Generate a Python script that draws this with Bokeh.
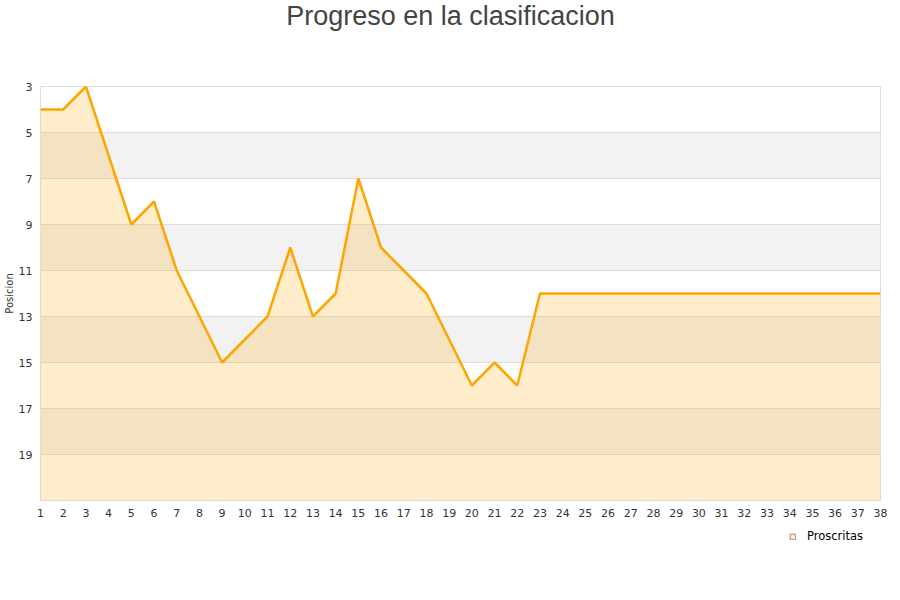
from bokeh.plotting import figure
from bokeh.layouts import column
from bokeh.models import Range1d, FixedTicker, Legend, LegendItem, ColumnDataSource, Label
from bokeh.embed import file_html
from bokeh.resources import INLINE

# Jornada-by-jornada league position
jornadas = list(range(1, 39))
posiciones = [4, 4, 3, 6, 9, 8, 11, 13, 15, 14, 13, 10, 13, 12, 7, 10, 11, 12, 14, 16,
              15, 16, 12, 12, 12, 12, 12, 12, 12, 12, 12, 12, 12, 12, 12, 12, 12, 12]
y_ticks = [3, 5, 7, 9, 11, 13, 15, 17, 19]
y_bottom = 21
titulo = "Progreso en la clasificacion"
serie = "Proscritas"

src = ColumnDataSource(dict(x=jornadas, y=posiciones, base=[y_bottom] * len(jornadas)))


def blank_strip(h):
    # strip used only for screen-positioned annotations; its data window lies
    # away from the jornada values so nothing from the series is drawn in it
    f = figure(width=900, height=h, output_backend="svg", toolbar_location=None,
               x_range=Range1d(100, 940), y_range=Range1d(100, 100 + h),
               min_border=0, outline_line_color=None)
    f.axis.visible = False
    f.grid.visible = False
    return f


# title strip (its frame lines up with the chart frame, which starts 40px in)
head = blank_strip(80)
head.add_layout(Label(x=410, y=65, x_units="screen", y_units="screen", text=titulo,
                      text_align="center", text_baseline="middle",
                      text_font="Liberation Sans", text_font_size="27px",
                      text_color="#444444"))

# main chart
p = figure(width=900, height=442, output_backend="svg", toolbar_location=None,
           x_range=Range1d(1, 38), y_range=Range1d(y_bottom, 3),
           min_border_left=40, min_border_right=20, min_border_top=6, min_border_bottom=22)
p.outline_line_color = "#dddddd"
p.background_fill_color = "white"

p.xaxis.ticker = FixedTicker(ticks=jornadas)
p.yaxis.ticker = FixedTicker(ticks=y_ticks)
for ax in (p.xaxis[0], p.yaxis[0]):
    ax.axis_line_color = None
    ax.major_tick_line_color = None
    ax.minor_tick_line_color = None
    ax.major_tick_out = 0
    ax.major_tick_in = 0
    ax.major_label_standoff = 8
    ax.major_label_text_font = "DejaVu Sans"
    ax.major_label_text_font_size = "11px"
    ax.major_label_text_color = "#333333"
p.yaxis.axis_label = "Posicion"
p.yaxis.axis_label_text_font = "DejaVu Sans"
p.yaxis.axis_label_text_font_size = "10px"
p.yaxis.axis_label_text_font_style = "normal"
p.yaxis.axis_label_text_color = "#333333"
p.yaxis.axis_label_standoff = 1

p.xgrid.grid_line_color = None
p.ygrid.grid_line_color = "#dddddd"
p.ygrid.band_fill_color = "#f2f2f2"
p.ygrid.band_fill_alpha = 1.0

p.varea(x="x", y1="y", y2="base", source=src, fill_color="orange", fill_alpha=0.2)
p.line(x="x", y="y", source=src, line_color="orange", line_width=2.5)

# legend strip: the swatch renderer shares the series data, which falls outside
# this strip's window, so only its legend glyph shows
foot = blank_strip(78)
swatch = foot.quad(left="x", right="x", bottom="y", top="y", source=src,
                   fill_color="#ffebc8", line_color="#a09070", line_width=1)
foot.add_layout(Legend(items=[LegendItem(label=serie, renderers=[swatch])],
                       location=(749, 57), orientation="horizontal", margin=0,
                       background_fill_alpha=0, border_line_color=None,
                       label_text_font="DejaVu Sans", label_text_font_size="11.5px",
                       label_text_color="#000000", label_standoff=11,
                       glyph_width=7, glyph_height=7, padding=2, spacing=0))

page = column(head, p, foot, spacing=0)
open("out.html", "w").write(file_html(page, INLINE))
